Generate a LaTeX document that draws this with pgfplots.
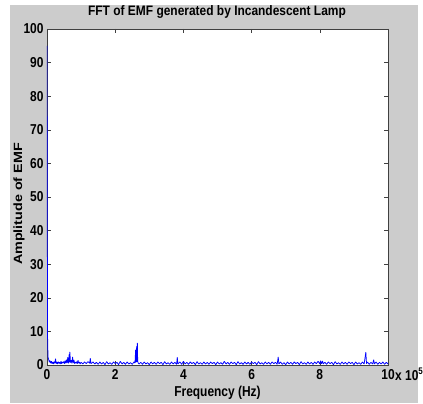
\documentclass[border=0pt]{standalone}
\usepackage{fontspec}
\setmainfont{Liberation Sans}
\usepackage{pgfplots}
\pgfplotsset{compat=1.18}
\definecolor{figgray}{RGB}{204,204,204}
\begin{document}
\begin{tikzpicture}
\useasboundingbox (0,0) rectangle (423bp,404bp);
\fill[white] (0,0) rectangle (423bp,404bp);
\fill[figgray] (10bp,1bp) rectangle (418bp,399bp);
\begin{axis}[
  at={(47bp,39bp)}, anchor=south west,
  width=341bp, height=336bp, scale only axis,
  xmin=0, xmax=10, ymin=0, ymax=100,
  xtick={0,2,4,6,8,10}, ytick={0,10,...,100},
  tick align=inside, major tick length=4bp,
  axis background/.style={fill=white},
  axis line style={black!75, line width=0.6bp},
  every tick/.style={black!75, line width=0.5bp},
  ticklabel style={font=\fontsize{12}{14}\selectfont\bfseries, yscale=1.2},
  /pgf/number format/assume math mode=true,
]
\addplot[blue, line width=0.75bp, line join=bevel] coordinates {
(0,95)(0.015,9.2)(0.03,2.4)(0.05,1.6)(0.07,0.8)(0.09,1.3)(0.11,0.5)(0.13,1.1)
(0.15,0.4)(0.17,0.9)(0.19,0.3)(0.21,1.0)(0.23,0.5)(0.25,1.9)(0.27,0.4)(0.29,0.9)
(0.31,0.3)(0.33,1.0)(0.35,0.5)(0.37,0.8)(0.39,0.3)(0.41,1.1)(0.43,0.4)(0.45,0.9)
(0.47,0.6)(0.49,1.0)(0.51,0.4)(0.53,1.3)(0.55,0.5)(0.57,1.6)(0.59,0.6)(0.61,2.3)
(0.63,0.5)(0.65,3.2)(0.66,0.8)(0.67,3.9)(0.69,0.7)(0.71,1.4)(0.73,0.5)(0.75,2.4)
(0.77,0.6)(0.79,1.5)(0.81,0.4)(0.83,0.9)(0.85,0.5)(0.87,1.0)(0.89,0.4)(0.91,1.4)
(0.93,0.5)(0.95,0.9)(0.97,0.3)(1.00,0.8)(1.05,0.3)(1.10,0.9)(1.15,0.4)(1.20,1.0)
(1.25,0.5)(1.27,2.0)(1.29,0.4)(1.35,0.9)(1.40,0.3)(1.45,0.8)
(1.50,0.2)(1.55,0.9)(1.60,0.3)(1.65,0.8)(1.70,0.1)(1.75,1.0)(1.80,0.3)(1.85,0.7)
(1.90,0.2)(1.95,0.9)(2.00,0.4)(2.05,0.8)(2.10,0.1)(2.15,1.1)(2.20,0.3)(2.25,0.8)
(2.30,0.2)(2.35,0.9)(2.40,0.3)(2.45,0.7)(2.50,0.2)(2.55,0.9)
(2.58,0.6)(2.60,4.6)(2.61,0.8)(2.63,5.6)(2.64,0.9)(2.65,6.6)(2.66,1.0)(2.68,0.5)
(2.70,0.3)(2.75,0.8)(2.80,0.2)(2.85,0.9)(2.90,0.3)(2.95,0.7)(3.00,0.1)(3.05,0.9)
(3.10,0.3)(3.15,0.8)(3.20,0.2)(3.25,0.9)(3.30,0.4)(3.35,0.8)(3.40,0.1)(3.45,1.0)
(3.50,0.3)(3.55,0.7)(3.60,0.2)(3.65,0.9)(3.70,0.3)(3.75,0.8)(3.80,0.2)(3.82,2.3)
(3.84,0.3)(3.90,0.9)(3.95,0.2)(4.00,1.1)(4.05,0.3)(4.10,0.8)(4.15,0.2)(4.20,0.9)
(4.25,0.4)(4.30,0.8)(4.35,0.1)(4.40,1.0)(4.45,0.3)(4.50,0.7)(4.55,0.2)(4.60,0.9)
(4.65,0.3)(4.70,0.8)(4.75,0.2)(4.80,0.9)(4.85,0.4)(4.90,0.8)(4.95,0.1)(5.00,0.9)
(5.05,0.3)(5.10,0.7)(5.15,0.2)(5.20,1.1)(5.25,0.3)(5.30,0.8)(5.35,0.2)(5.40,0.9)
(5.45,0.4)(5.50,0.8)(5.55,0.1)(5.60,1.0)(5.65,0.3)(5.70,0.7)(5.75,0.2)(5.80,0.9)
(5.85,0.3)(5.90,0.8)(5.95,0.2)(6.00,0.9)(6.05,0.4)(6.10,0.8)(6.15,0.1)(6.20,1.0)
(6.25,0.3)(6.30,0.7)(6.35,0.2)(6.40,0.9)(6.45,0.3)(6.50,0.8)(6.55,0.2)(6.60,0.9)
(6.65,0.4)(6.70,0.8)(6.75,0.2)(6.78,2.4)(6.80,0.3)(6.85,0.9)(6.90,0.2)(6.95,0.7)
(7.00,0.1)(7.05,0.9)(7.10,0.3)(7.15,0.8)(7.20,0.2)(7.25,0.9)(7.30,0.4)(7.35,0.8)
(7.40,0.1)(7.45,1.0)(7.50,0.3)(7.55,0.7)(7.60,0.2)(7.65,0.9)(7.70,0.3)(7.75,0.8)
(7.80,0.2)(7.85,0.9)(7.90,0.4)(7.95,1.1)(8.00,0.3)(8.02,1.3)(8.05,0.4)(8.08,1.2)
(8.10,0.3)(8.15,0.8)(8.20,0.2)(8.25,0.9)(8.30,0.4)(8.35,0.8)(8.40,0.1)(8.45,1.0)
(8.50,0.3)(8.55,0.7)(8.60,0.2)(8.65,0.9)(8.70,0.3)(8.75,0.8)(8.80,0.2)(8.85,0.9)
(8.90,0.4)(8.95,0.8)(9.00,0.1)(9.05,0.9)(9.10,0.3)(9.15,0.7)(9.20,0.2)(9.25,0.9)
(9.30,0.3)(9.35,3.8)(9.37,0.4)(9.40,0.9)(9.45,0.2)(9.50,0.8)(9.55,0.3)(9.58,1.6)
(9.60,0.3)(9.65,0.9)(9.70,0.2)(9.75,0.8)(9.80,0.3)(9.85,0.9)(9.90,0.2)(9.95,0.8)
(10.00,0.3)
};
\end{axis}
\node[anchor=base west, inner sep=0pt, yscale=1.2,
  font=\fontsize{12}{14}\selectfont\bfseries]
  at (395bp,24bp) {x 10\smash{\textsuperscript{5}}};
\node[anchor=base, yscale=1.15, font=\fontsize{12}{14}\selectfont\bfseries]
  at (217bp,388bp) {FFT of EMF generated by Incandescent Lamp};
\node[anchor=base, yscale=1.2, font=\fontsize{12}{14}\selectfont\bfseries]
  at (217.5bp,8bp) {Frequency (Hz)};
\node[anchor=base, rotate=90, xscale=1.2, font=\fontsize{12}{14}\selectfont\bfseries]
  at (22bp,200bp) {Amplitude of EMF};
\end{tikzpicture}
\end{document}
